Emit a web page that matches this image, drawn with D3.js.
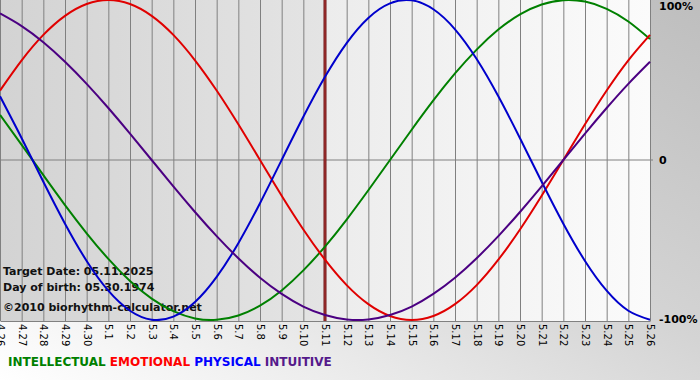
<!DOCTYPE html>
<html><head><meta charset="utf-8">
<script src="https://cdn.jsdelivr.net/npm/d3@7"></script>
<style>
html,body{margin:0;padding:0;background:#fff;}
svg{display:block;}
text{font-family:"DejaVu Sans",Verdana,sans-serif;}
</style></head>
<body>
<svg id="chart" width="700" height="380"></svg>
<script>
const dates = ["4.26","4.27","4.28","4.29","4.30","5.1","5.2","5.3","5.4","5.5","5.6","5.7","5.8","5.9","5.10","5.11","5.12","5.13","5.14","5.15","5.16","5.17","5.18","5.19","5.20","5.21","5.22","5.23","5.24","5.25","5.26"];
const intellectual = [0.282,0.095,-0.095,-0.282,-0.458,-0.618,-0.756,-0.866,-0.945,-0.990,-0.999,-0.972,-0.910,-0.815,-0.690,-0.541,-0.372,-0.189,0,0.189,0.372,0.541,0.690,0.815,0.910,0.972,0.999,0.990,0.945,0.866,0.756];
const emotional = [0.434,0.623,0.782,0.901,0.975,1.000,0.975,0.901,0.782,0.623,0.434,0.223,0,-0.223,-0.434,-0.623,-0.782,-0.901,-0.975,-1.000,-0.975,-0.901,-0.782,-0.623,-0.434,-0.223,0,0.223,0.434,0.623,0.782];
const physical = [0.398,0.136,-0.136,-0.398,-0.631,-0.817,-0.942,-0.998,-0.979,-0.888,-0.731,-0.520,-0.270,0,0.270,0.520,0.731,0.888,0.979,0.998,0.942,0.817,0.631,0.398,0.136,-0.136,-0.398,-0.631,-0.817,-0.942,-0.998];
const intuitive = [0.916,0.837,0.736,0.614,0.476,0.325,0.165,0,-0.165,-0.325,-0.476,-0.614,-0.736,-0.837,-0.916,-0.969,-0.997,-0.997,-0.969,-0.916,-0.837,-0.736,-0.614,-0.476,-0.325,-0.165,0,0.165,0.325,0.476,0.614];
const seriesNames = ["INTELLECTUAL","EMOTIONAL","PHYSICAL","INTUITIVE"];
const seriesColors = ["#008000","#e00000","#0000cc","#4b0082"];
const legendColors = ["#008000","#ff0000","#0000ff","#551a8b"];
const targetDate = "5.11";
const yTicks = [1,0,-1];
const yTickLabels = ["100%","0","-100%"];
const infoLines = ["Target Date: 05.11.2025","Day of birth: 05.30.1974","\u00A92010 biorhythm-calculator.net"];

const svg = d3.select("#chart");
const W = 700, H = 380;
const plotW = 650, plotH = 320;

const defs = svg.append("defs");
const bgGrad = defs.append("linearGradient").attr("id","bg").attr("x1","0").attr("y1","1").attr("x2","1").attr("y2","0");
bgGrad.append("stop").attr("offset","0").attr("stop-color","#ffffff");
bgGrad.append("stop").attr("offset","0.55").attr("stop-color","#d4d4d4");
bgGrad.append("stop").attr("offset","1").attr("stop-color","#bebebe");
const pastGrad = defs.append("linearGradient").attr("id","past").attr("x1","0").attr("y1","0").attr("x2","1").attr("y2","0");
pastGrad.append("stop").attr("offset","0").attr("stop-color","#d3d3d3");
pastGrad.append("stop").attr("offset","1").attr("stop-color","#e4e4e4");
const futGrad = defs.append("linearGradient").attr("id","fut").attr("x1","0").attr("y1","0").attr("x2","1").attr("y2","0");
futGrad.append("stop").attr("offset","0").attr("stop-color","#ececec");
futGrad.append("stop").attr("offset","1").attr("stop-color","#fbfbfb");
defs.append("clipPath").attr("id","clip").append("rect").attr("x",0).attr("y",0).attr("width",plotW+1).attr("height",plotH+1);

svg.append("rect").attr("width",W).attr("height",H).attr("fill","url(#bg)");

const x = d3.scalePoint().domain(dates).range([0, plotW]);
const y = d3.scaleLinear().domain([-1,1]).range([plotH, 0]);

const tx = x(targetDate);
svg.append("rect").attr("x",0).attr("y",0).attr("width",tx).attr("height",plotH+1).attr("fill","url(#past)");
svg.append("rect").attr("x",tx).attr("y",0).attr("width",plotW-tx).attr("height",plotH+1).attr("fill","url(#fut)");

// vertical grid + rotated date labels
const xAxis = svg.append("g").attr("transform",`translate(0,${plotH+1})`)
  .call(d3.axisBottom(x).tickSize(-(plotH+1)).tickSizeOuter(0));
xAxis.select(".domain").attr("stroke","#808080");
xAxis.selectAll(".tick line").attr("stroke","#808080");
xAxis.selectAll(".tick text")
  .attr("transform","rotate(90)")
  .attr("x",3).attr("y",0).attr("dy","0.35em")
  .style("text-anchor","start")
  .attr("font-size","10px").attr("fill","#000")
  .attr("font-family","\"DejaVu Sans\",Verdana,sans-serif");

// right axis labels + zero line
const yAxis = svg.append("g").attr("transform",`translate(${plotW},0)`)
  .call(d3.axisRight(y).tickValues(yTicks).tickFormat((d,i)=>yTickLabels[i]).tickSize(0).tickPadding(9));
yAxis.select(".domain").remove();
yAxis.selectAll(".tick text").attr("font-size","11px").attr("font-weight","bold").attr("fill","#000")
  .attr("font-family","\"DejaVu Sans\",Verdana,sans-serif");
yAxis.selectAll(".tick").filter(d=>d===1).select("text").attr("dy","0.75em").attr("y",1);
yAxis.selectAll(".tick").filter(d=>d===-1).select("text").attr("dy","0.25em");
svg.append("line").attr("x1",0).attr("x2",plotW+3).attr("y1",y(0)).attr("y2",y(0)).attr("stroke","#808080");
svg.append("line").attr("x1",plotW+0.5).attr("x2",plotW+0.5).attr("y1",0).attr("y2",plotH+1).attr("stroke","#808080");

// target line
svg.append("line").attr("x1",tx).attr("x2",tx).attr("y1",0).attr("y2",plotH+1).attr("stroke","#6e1414").attr("stroke-width",3);
svg.append("line").attr("x1",tx).attr("x2",tx).attr("y1",0).attr("y2",plotH+1).attr("stroke","#b03a3a").attr("stroke-width",1);

// info text
const info = svg.append("g");
[275,291,311].forEach((yy,i)=>{
  info.append("text").attr("x",3).attr("y",yy).text(infoLines[i])
    .attr("font-size","11px").attr("font-weight","bold").attr("fill","#111");
});

// curves
const line = d3.line().x((d,i)=>x(dates[i])).y(d=>y(d)).curve(d3.curveNatural);
const allSeries = [intellectual, emotional, physical, intuitive];
const curves = svg.append("g").attr("clip-path","url(#clip)");
allSeries.forEach((s,i)=>{
  curves.append("path").datum(s).attr("d",line).attr("fill","none")
    .attr("stroke",seriesColors[i]).attr("stroke-width",2);
});

// legend
const legend = svg.append("text").attr("x",8).attr("y",366).attr("font-size","12px").attr("font-weight","bold");
seriesNames.forEach((n,i)=>{
  legend.append("tspan").attr("fill",legendColors[i]).text((i?" ":"")+n+" ");
});
</script>
</body></html>
